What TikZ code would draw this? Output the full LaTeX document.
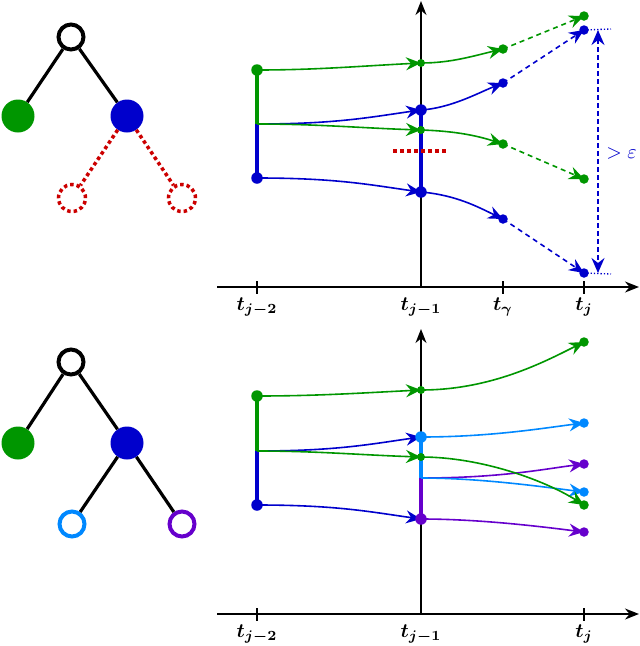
\documentclass[tikz,border=0pt]{standalone}
\usepackage{amsmath}
\usepackage{bm}
\usetikzlibrary{arrows.meta}
\definecolor{cg}{RGB}{0,150,0}
\definecolor{cb}{RGB}{0,0,204}
\definecolor{cl}{RGB}{0,136,255}
\definecolor{cp}{RGB}{102,0,204}
\definecolor{cr}{RGB}{204,0,0}
\begin{document}
\begin{tikzpicture}[x=1pt,y=-1pt,
  dotbig/.style={circle, fill, inner sep=0pt, minimum size=11.5pt},
  dotsmall/.style={circle, fill, inner sep=0pt, minimum size=8pt},
  dotend/.style={circle, fill, inner sep=0pt, minimum size=9.5pt},
  traj/.style={line width=1.6pt, -{Stealth[length=15pt,width=13pt,inset=5pt]}},
  dtraj/.style={line width=1.6pt, dash pattern=on 5pt off 4pt, -{Stealth[length=15pt,width=13pt,inset=5pt]}},
  bar/.style={line width=4.5pt},
  axis/.style={line width=1.5pt, -{Stealth[length=14pt,width=11pt]}},
  tick/.style={line width=1.5pt},
  lab/.style={scale=2.0, anchor=center, inner sep=1pt},
  treeedge/.style={line width=3.2pt},
  ring/.style={circle, draw, line width=4pt, inner sep=0pt, minimum size=25pt},
  full/.style={circle, fill, inner sep=0pt, minimum size=33pt},
  ghost/.style={circle, draw=cr, line width=3.5pt, dash pattern=on 3.5pt off 3pt, inner sep=0pt, minimum size=27pt},
]
\path[use as bounding box] (0,0) rectangle (640,646);

% ---------- top tree ----------
\node[ring, draw=black] (r1) at (71,37) {};
\node[full, fill=cg] (g1) at (18,116) {};
\node[full, fill=cb] (b1) at (127,116) {};
\node[ghost] (x1) at (72,198) {};
\node[ghost] (x2) at (182,198) {};
\draw[treeedge] (r1) -- (g1);
\draw[treeedge] (r1) -- (b1);
\draw[cr, line width=3.5pt, dash pattern=on 3.5pt off 3pt] (b1) -- (x1);
\draw[cr, line width=3.5pt, dash pattern=on 3.5pt off 3pt] (b1) -- (x2);

% ---------- bottom tree ----------
\node[ring, draw=black] (r2) at (71,362) {};
\node[full, fill=cg] (g2) at (18,443) {};
\node[full, fill=cb] (b2) at (127,443) {};
\node[ring, draw=cl] (l2) at (72,524) {};
\node[ring, draw=cp] (p2) at (182,524) {};
\draw[treeedge] (r2) -- (g2);
\draw[treeedge] (r2) -- (b2);
\draw[treeedge] (b2) -- (l2);
\draw[treeedge] (b2) -- (p2);

% ---------- top plot ----------
\coordinate (ox1) at (217,287);
\coordinate (xe1) at (639,287);
\coordinate (ya1) at (421,287);
\coordinate (ye1) at (421,1);
\draw[axis] (ox1) -- (xe1);
\draw[axis] (ya1) -- (ye1);
\draw[tick] (257,281) -- (257,294);
\draw[tick] (503,281) -- (503,294);
\draw[tick] (584,281) -- (584,294);
\node[lab] (l1a) at (257,307) {$\bm{t_{j-2}}$};
\node[lab] (l1b) at (421,307) {$\bm{t_{j-1}}$};
\node[lab] (l1c) at (503,307) {$\bm{t_{\gamma}}$};
\node[lab] (l1d) at (584,307) {$\bm{t_{j}}$};

\coordinate (A1) at (257,70);
\coordinate (J1) at (257,124);
\coordinate (B1) at (257,178);
\coordinate (C1) at (421,63);
\coordinate (C2) at (421,110);
\coordinate (C3) at (421,130);
\coordinate (C4) at (421,192);
\coordinate (D1) at (503,49);
\coordinate (D2) at (503,83);
\coordinate (D3) at (503,144);
\coordinate (D4) at (503,219);
\coordinate (E1) at (584,16);
\coordinate (E2) at (584,30);
\coordinate (E3) at (584,179);
\coordinate (E4) at (584,273);

\draw[bar, cg] (A1) -- (J1);
\draw[bar, cb] (J1) -- (B1);
\draw[bar, cb] (C2) -- (C4);
\draw[cr, line width=3.5pt, dash pattern=on 4pt off 3pt] (393,151) -- (448,151);

\draw[traj, cg] (A1) .. controls +(60,0) and +(-60,3) .. (C1);
\draw[traj, cb] (J1) .. controls +(80,0) and +(-50,7) .. (C2);
\draw[traj, cg] (J1) .. controls +(60,0) and +(-60,-2) .. (C3);
\draw[traj, cb] (B1) .. controls +(80,0) and +(-50,-7) .. (C4);
\draw[traj, cg] (C1) .. controls +(30,0) and +(-30,7) .. (D1);
\draw[traj, cb] (C2) .. controls +(30,-2) and +(-25,10) .. (D2);
\draw[traj, cg] (C3) .. controls +(35,1) and +(-25,-8) .. (D3);
\draw[traj, cb] (C4) .. controls +(35,3) and +(-25,-12) .. (D4);
\draw[dtraj, cg] (D1) -- (E1);
\draw[dtraj, cb] (D2) -- (E2);
\draw[dtraj, cg] (D3) -- (E3);
\draw[dtraj, cb] (D4) -- (E4);

\node[dotbig, cg] (nA1) at (A1) {};
\node[dotbig, cb] (nB1) at (B1) {};
\node[dotsmall, cg] (nC1) at (C1) {};
\node[dotbig, cb] (nC2) at (C2) {};
\node[dotsmall, cg] (nC3) at (C3) {};
\node[dotbig, cb] (nC4) at (C4) {};
\node[dotend, cg] (nD1) at (D1) {};
\node[dotend, cb] (nD2) at (D2) {};
\node[dotend, cg] (nD3) at (D3) {};
\node[dotend, cb] (nD4) at (D4) {};
\node[dotend, cg] (nE1) at (E1) {};
\node[dotend, cb] (nE2) at (E2) {};
\node[dotend, cg] (nE3) at (E3) {};
\node[dotend, cb] (nE4) at (E4) {};

\coordinate (F1) at (611,29);
\coordinate (F2) at (611,274);
\coordinate (H1) at (598,30);
\coordinate (H2) at (598,273);
\draw[cb, dotted, line width=1.3pt] (E2) -- (F1);
\draw[cb, dotted, line width=1.3pt] (E4) -- (F2);
\draw[cb, line width=1.8pt, dash pattern=on 5pt off 3pt, {Stealth[length=15pt,width=13pt,inset=5pt]}-{Stealth[length=15pt,width=13pt,inset=5pt]}] (H1) -- (H2);
\node[lab, cb, anchor=west] (eps) at (604,153) {$>\varepsilon$};

% ---------- bottom plot ----------
\coordinate (ox2) at (217,614);
\coordinate (xe2) at (639,614);
\coordinate (ya2) at (421,614);
\coordinate (ye2) at (421,329);
\draw[axis] (ox2) -- (xe2);
\draw[axis] (ya2) -- (ye2);
\draw[tick] (257,608) -- (257,621);
\draw[tick] (584,608) -- (584,621);
\node[lab] (l2a) at (257,634) {$\bm{t_{j-2}}$};
\node[lab] (l2b) at (421,634) {$\bm{t_{j-1}}$};
\node[lab] (l2d) at (584,634) {$\bm{t_{j}}$};

\coordinate (P1) at (257,396);
\coordinate (PJ) at (257,451);
\coordinate (P2) at (257,505);
\coordinate (Q1) at (421,390);
\coordinate (Q2) at (421,437);
\coordinate (Q3) at (421,457);
\coordinate (QJ) at (421,478);
\coordinate (Q4) at (421,519);
\coordinate (R1) at (584,342);
\coordinate (R2) at (584,423);
\coordinate (R3) at (584,464);
\coordinate (R4) at (584,492);
\coordinate (R5) at (584,505);
\coordinate (R6) at (584,532);

\draw[bar, cg] (P1) -- (PJ);
\draw[bar, cb] (PJ) -- (P2);
\draw[bar, cl] (Q2) -- (QJ);
\draw[bar, cp] (QJ) -- (Q4);

\draw[traj, cg] (P1) .. controls +(60,0) and +(-60,3) .. (Q1);
\draw[traj, cb] (PJ) .. controls +(80,0) and +(-50,7) .. (Q2);
\draw[traj, cg] (PJ) .. controls +(60,0) and +(-60,-2) .. (Q3);
\draw[traj, cb] (P2) .. controls +(80,0) and +(-50,-7) .. (Q4);
\draw[traj, cg] (Q1) .. controls +(70,0) and +(-40,20) .. (R1);
\draw[traj, cl] (Q2) .. controls +(70,0) and +(-40,5) .. (R2);
\draw[traj, cp] (QJ) .. controls +(80,0) and +(-40,5) .. (R3);
\draw[traj, cl] (QJ) .. controls +(60,0) and +(-40,-5) .. (R4);
\draw[traj, cg] (Q3) .. controls +(60,0) and +(-40,-25) .. (R5);
\draw[traj, cp] (Q4) .. controls +(60,0) and +(-40,-5) .. (R6);

\node[dotbig, cg] (nP1) at (P1) {};
\node[dotbig, cb] (nP2) at (P2) {};
\node[dotsmall, cg] (nQ1) at (Q1) {};
\node[dotbig, cl] (nQ2) at (Q2) {};
\node[dotsmall, cg] (nQ3) at (Q3) {};
\node[dotbig, cp] (nQ4) at (Q4) {};
\node[dotend, cg] (nR1) at (R1) {};
\node[dotend, cl] (nR2) at (R2) {};
\node[dotend, cp] (nR3) at (R3) {};
\node[dotend, cl] (nR4) at (R4) {};
\node[dotend, cg] (nR5) at (R5) {};
\node[dotend, cp] (nR6) at (R6) {};
\end{tikzpicture}
\end{document}
